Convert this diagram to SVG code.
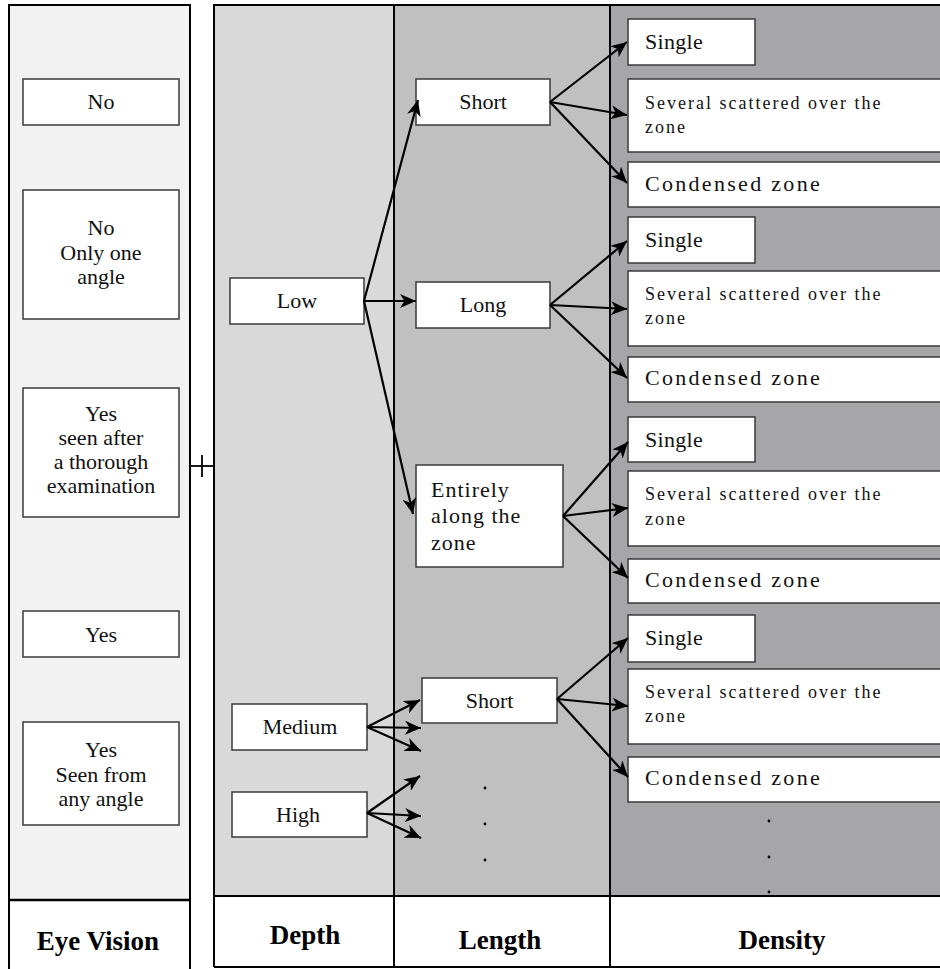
<svg xmlns="http://www.w3.org/2000/svg" width="940" height="969" viewBox="0 0 940 969">
<style>
  .t { font-family: "Liberation Serif", "Times New Roman", serif; font-size: 22px; fill: #111; }
  .c { text-anchor: middle; }
  .sev { font-size: 18px; letter-spacing: 2px; }
  .cond { letter-spacing: 2.3px; }
  .sing { letter-spacing: 0.3px; }
  .ent { letter-spacing: 1px; }
  .hdr { font-family: "Liberation Serif", "Times New Roman", serif; font-size: 27px; font-weight: bold; fill: #000; text-anchor: middle; }
  .box { fill: #fff; stroke: #3a3a3a; stroke-width: 1.5; }
  .frame { fill: none; stroke: #000; stroke-width: 2; }
  .arr { stroke: #000; stroke-width: 2.2; fill: none; marker-end: url(#ah); }
  .dot { fill: #000; }
</style>
<defs>
  <marker id="ah" markerUnits="userSpaceOnUse" markerWidth="17" markerHeight="14" refX="16" refY="7" orient="auto">
    <path d="M0,0 L16,7 L0,14 L4.5,7 z" fill="#000"/>
  </marker>
</defs>

<!-- backgrounds -->
<rect x="9" y="5" width="181" height="970" fill="#f2f2f2"/>
<rect x="214" y="5" width="180" height="891" fill="#d9d9d9"/>
<rect x="394" y="5" width="216" height="891" fill="#c0c0c0"/>
<rect x="610" y="5" width="335" height="891" fill="#a6a5a8"/>
<rect x="9" y="900" width="181" height="75" fill="#fff"/>
<rect x="214" y="896" width="730" height="71" fill="#fff"/>

<!-- frames -->
<g id="frames">
  <path class="frame" d="M9,975 V5 H190 V975"/>
  <line x1="9" y1="900" x2="190" y2="900" stroke="#000" stroke-width="2.5"/>
  <path class="frame" d="M214,967 V5 H945"/>
  <line class="frame" x1="214" y1="967" x2="945" y2="967"/>
  <line class="frame" x1="214" y1="896" x2="945" y2="896"/>
  <line class="frame" x1="394" y1="5" x2="394" y2="967"/>
  <line class="frame" x1="610" y1="5" x2="610" y2="967"/>
  <line x1="190" y1="466" x2="214" y2="466" stroke="#000" stroke-width="1.8"/>
  <line x1="202" y1="455" x2="202" y2="477" stroke="#000" stroke-width="1.8"/>
</g>

<!-- Eye vision column -->
<g id="ev-no"><rect class="box" x="23" y="79" width="156" height="46"/><text class="t c" x="101" y="109">No</text></g>
<g id="ev-no-one"><rect class="box" x="23" y="190" width="156" height="129"/>
  <text class="t c" x="101" y="235">No</text><text class="t c" x="101" y="259.5">Only one</text><text class="t c" x="101" y="284">angle</text></g>
<g id="ev-yes-thorough"><rect class="box" x="23" y="388" width="156" height="129"/>
  <text class="t c" x="101" y="421">Yes</text><text class="t c" x="101" y="445">seen after</text><text class="t c" x="101" y="469">a thorough</text><text class="t c" x="101" y="493">examination</text></g>
<g id="ev-yes"><rect class="box" x="23" y="611" width="156" height="46"/><text class="t c" x="101" y="642">Yes</text></g>
<g id="ev-yes-any"><rect class="box" x="23" y="722" width="156" height="103"/>
  <text class="t c" x="101" y="757">Yes</text><text class="t c" x="101" y="782">Seen from</text><text class="t c" x="101" y="806">any angle</text></g>

<!-- Depth column -->
<g id="d-low"><rect class="box" x="230" y="278" width="134" height="46"/><text class="t c" x="297" y="308">Low</text></g>
<g id="d-medium"><rect class="box" x="232" y="704" width="135" height="46"/><text class="t c" x="300" y="734">Medium</text></g>
<g id="d-high"><rect class="box" x="232" y="792" width="135" height="45"/><text class="t c" x="298" y="821.5">High</text></g>

<!-- Length column -->
<g id="l-short1"><rect class="box" x="416" y="79" width="134" height="46"/><text class="t c" x="483" y="109">Short</text></g>
<g id="l-long"><rect class="box" x="416" y="282" width="134" height="46"/><text class="t c" x="483" y="312">Long</text></g>
<g id="l-entire"><rect class="box" x="416" y="465" width="147" height="102"/>
  <text class="t ent" x="431" y="497">Entirely</text><text class="t ent" x="431" y="523">along the</text><text class="t ent" x="431" y="550">zone</text></g>
<g id="l-short2"><rect class="box" x="422" y="678" width="135" height="45"/><text class="t c" x="489.5" y="707.5">Short</text></g>

<!-- Density column -->
<g id="g1-single"><rect class="box" x="628" y="19" width="127" height="46"/><text class="t sing" x="645" y="49">Single</text></g>
<g id="g1-several"><rect class="box" x="628" y="79" width="320" height="73"/><text class="t sev" x="645" y="109">Several scattered over the</text><text class="t sev" x="645" y="133">zone</text></g>
<g id="g1-condensed"><rect class="box" x="628" y="162" width="320" height="45"/><text class="t cond" x="645" y="191">Condensed zone</text></g>

<g id="g2-single"><rect class="box" x="628" y="217" width="127" height="46"/><text class="t sing" x="645" y="247">Single</text></g>
<g id="g2-several"><rect class="box" x="628" y="271" width="320" height="75"/><text class="t sev" x="645" y="300">Several scattered over the</text><text class="t sev" x="645" y="324">zone</text></g>
<g id="g2-condensed"><rect class="box" x="628" y="357" width="320" height="45"/><text class="t cond" x="645" y="385">Condensed zone</text></g>

<g id="g3-single"><rect class="box" x="628" y="417" width="127" height="45"/><text class="t sing" x="645" y="447">Single</text></g>
<g id="g3-several"><rect class="box" x="628" y="471" width="320" height="75"/><text class="t sev" x="645" y="500">Several scattered over the</text><text class="t sev" x="645" y="525">zone</text></g>
<g id="g3-condensed"><rect class="box" x="628" y="559" width="320" height="44"/><text class="t cond" x="645" y="587">Condensed zone</text></g>

<g id="g4-single"><rect class="box" x="628" y="615" width="127" height="47"/><text class="t sing" x="645" y="645">Single</text></g>
<g id="g4-several"><rect class="box" x="628" y="669" width="320" height="75"/><text class="t sev" x="645" y="698">Several scattered over the</text><text class="t sev" x="645" y="722">zone</text></g>
<g id="g4-condensed"><rect class="box" x="628" y="757" width="320" height="45"/><text class="t cond" x="645" y="785">Condensed zone</text></g>

<!-- dots -->
<g id="dots">
  <circle class="dot" cx="485" cy="788" r="1.4"/><circle class="dot" cx="485" cy="824" r="1.4"/><circle class="dot" cx="485" cy="860" r="1.4"/>
  <circle class="dot" cx="769" cy="821" r="1.4"/><circle class="dot" cx="769" cy="857" r="1.4"/><circle class="dot" cx="769" cy="892" r="1.4"/>
</g>

<!-- connectors -->
<g id="connectors">
  <line class="arr" x1="364" y1="301" x2="418" y2="100"/>
  <line class="arr" x1="364" y1="301" x2="416" y2="301"/>
  <line class="arr" x1="364" y1="301" x2="413" y2="514"/>

  <line class="arr" x1="550" y1="102" x2="627" y2="42"/>
  <line class="arr" x1="550" y1="102" x2="627" y2="115"/>
  <line class="arr" x1="550" y1="102" x2="627" y2="183"/>

  <line class="arr" x1="550" y1="305" x2="627" y2="241"/>
  <line class="arr" x1="550" y1="305" x2="627" y2="309"/>
  <line class="arr" x1="550" y1="305" x2="627" y2="378"/>

  <line class="arr" x1="563" y1="516" x2="628" y2="442"/>
  <line class="arr" x1="563" y1="516" x2="628" y2="508"/>
  <line class="arr" x1="563" y1="516" x2="628" y2="578"/>

  <line class="arr" x1="557" y1="699" x2="628" y2="638"/>
  <line class="arr" x1="557" y1="699" x2="628" y2="706"/>
  <line class="arr" x1="557" y1="699" x2="628" y2="777"/>

  <line class="arr" x1="367" y1="727" x2="420" y2="700"/>
  <line class="arr" x1="367" y1="727" x2="421" y2="728"/>
  <line class="arr" x1="367" y1="727" x2="421" y2="751"/>

  <line class="arr" x1="367" y1="813" x2="420" y2="776"/>
  <line class="arr" x1="367" y1="813" x2="421" y2="816"/>
  <line class="arr" x1="367" y1="813" x2="421" y2="838"/>
</g>

<!-- headers -->
<g id="headers">
  <text class="hdr" x="98" y="950">Eye Vision</text>
  <text class="hdr" x="305" y="944">Depth</text>
  <text class="hdr" x="500" y="949">Length</text>
  <text class="hdr" x="782" y="949">Density</text>
</g>
</svg>
